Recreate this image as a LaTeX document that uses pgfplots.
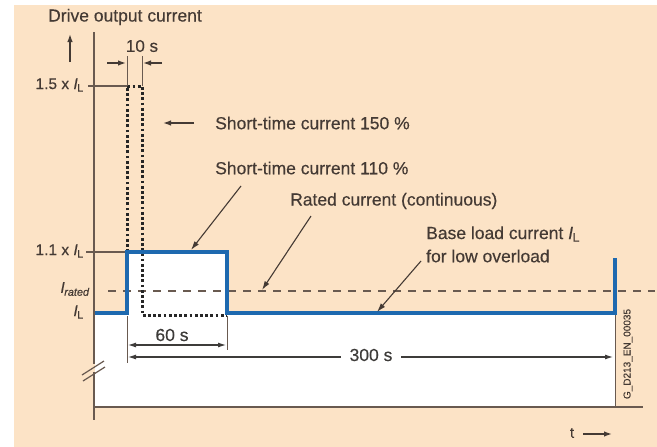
\documentclass[border=0pt]{standalone}
\usepackage{pgfplots}
\pgfplotsset{compat=1.18}
\usepackage{fontspec}
\setmainfont{Liberation Sans}[FakeBold=0.35]
\usetikzlibrary{arrows.meta}
\definecolor{peach}{RGB}{252,227,198}
\definecolor{txt}{RGB}{68,58,52}
\definecolor{ln}{RGB}{105,90,80}
\definecolor{blu}{RGB}{30,105,175}
\definecolor{dimg}{RGB}{62,60,58}
\newcommand{\IL}{\textit{I}\textsubscript{\kern-0.5pt L}}
\begin{document}
\begin{tikzpicture}
\begin{axis}[
  width=657pt, height=447pt, scale only axis, hide axis,
  xmin=0, xmax=657, ymin=0, ymax=447, y dir=reverse, clip=false,
]
% backgrounds
\addplot[fill=white, draw=none] coordinates {(0,0) (657,0) (657,447) (0,447)} -- cycle;
\addplot[fill=peach, draw=none] coordinates {(14,5) (657,5) (657,447) (14,447)} -- cycle;
% white area under the load curve
\addplot[fill=white, draw=none] coordinates {(95,313) (127,313) (127,252) (227,252) (227,313) (615,313) (615,407) (95,407)} -- cycle;
% frame lines
\addplot[ln, line width=1.2pt] coordinates {(95,407) (643,407)};
\addplot[ln, line width=0.9pt] coordinates {(615,313) (615,407)};
\addplot[ln, line width=1.5pt] coordinates {(94,32) (94,364)};
\addplot[ln, line width=1.5pt] coordinates {(94,372) (94,420)};
\addplot[ln, line width=1.2pt] coordinates {(82,375) (104,361)};
\addplot[ln, line width=1.2pt] coordinates {(83,381) (105,367)};
% up arrow
\addplot[txt, line width=1.4pt, -{Latex[length=8pt,width=5.5pt]}] coordinates {(70,62) (70,34)};
% tick lines
\addplot[ln, line width=1.2pt] coordinates {(88,86) (127,86)};
\addplot[ln, line width=1.2pt] coordinates {(86,252) (127,252)};
% rated (dashed)
\addplot[ln, line width=1.5pt, dash pattern=on 8pt off 7pt] coordinates {(108,291) (655,291)};
% short-time 150 % (dotted)
\addplot[black!85, line width=3pt, dash pattern=on 2.8pt off 2.4pt] coordinates {(127,252) (127,86) (142,86) (142,315) (227,315)};
% load curve
\addplot[blu, line width=3.6pt, line join=miter] coordinates {(95,313) (127,313) (127,252) (227,252) (227,313) (615,313) (615,258)};
% 10 s dimension
\addplot[ln, line width=0.9pt] coordinates {(127,56) (127,86)};
\addplot[ln, line width=0.9pt] coordinates {(142,56) (142,86)};
\addplot[txt, line width=1.4pt, -{Latex[length=8pt,width=5.5pt]}] coordinates {(107,63) (126,63)};
\addplot[txt, line width=1.4pt, -{Latex[length=8pt,width=5.5pt]}] coordinates {(162,63) (143,63)};
% annotation arrows
\addplot[txt, line width=1.4pt, -{Latex[length=8pt,width=5.5pt]}] coordinates {(194,123) (163,123)};
\addplot[txt, line width=1.1pt, -{Latex[length=9pt,width=5.5pt]}] coordinates {(241,186) (191,250)};
\addplot[txt, line width=1.1pt, -{Latex[length=9pt,width=5.5pt]}] coordinates {(311,216) (262,290)};
\addplot[txt, line width=1.1pt, -{Latex[length=9pt,width=5.5pt]}] coordinates {(421,261) (377,312)};
% 60 s / 300 s dimensions
\addplot[ln, line width=0.9pt] coordinates {(127,316) (127,363)};
\addplot[ln, line width=0.9pt] coordinates {(227,316) (227,350)};
\addplot[dimg, line width=1.1pt, {Latex[length=8pt,width=5pt]}-{Latex[length=8pt,width=5pt]}] coordinates {(128,345) (226,345)};
\addplot[dimg, line width=1.1pt, {Latex[length=8pt,width=5pt]}-] coordinates {(128,357) (341,357)};
\addplot[dimg, line width=1.1pt, -{Latex[length=8pt,width=5pt]}] coordinates {(401,357) (613,357)};
% t arrow
\addplot[txt, line width=1.4pt, -{Latex[length=8pt,width=5.5pt]}] coordinates {(583,434) (612,434)};

% texts
\begin{scope}[every node/.style={text=txt, inner sep=0pt}]
\node at (axis cs:125,17) {\fontsize{17.5}{20}\selectfont Drive output current};
\node at (axis cs:142,46) {\fontsize{17}{20}\selectfont 10 s};
\node[anchor=east] at (axis cs:84,85) {\fontsize{15.5}{18}\selectfont 1.5 x \IL};
\node[anchor=east] at (axis cs:84,251) {\fontsize{15.5}{18}\selectfont 1.1 x \IL};
\node[anchor=east] at (axis cs:90,289) {\fontsize{15.5}{18}\selectfont \textit{I}\textsubscript{\kern-0.5pt\textit{rated}}};
\node[anchor=east] at (axis cs:84,312) {\fontsize{15.5}{18}\selectfont \IL};
\node[anchor=west] at (axis cs:215,123) {\fontsize{17.5}{20}\selectfont Short-time current 150 \%};
\node[anchor=west] at (axis cs:215,168) {\fontsize{17.5}{20}\selectfont Short-time current 110 \%};
\node[anchor=west] at (axis cs:290,201) {\fontsize{17.5}{20}\selectfont Rated current (continuous)};
\node[anchor=west] at (axis cs:426,234) {\fontsize{17.5}{20}\selectfont Base load current \IL};
\node[anchor=west] at (axis cs:426,256) {\fontsize{17.5}{20}\selectfont for low overload};
\node[text=dimg] at (axis cs:172,335) {\fontsize{17.5}{20}\selectfont 60 s};
\node[text=dimg] at (axis cs:371,355) {\fontsize{17.5}{20}\selectfont 300 s};
\node[rotate=90] at (axis cs:628,354) {\fontsize{10}{12}\selectfont G\_D213\_EN\_00035};
\node at (axis cs:572,433) {\fontsize{15}{18}\selectfont t};
\end{scope}
\end{axis}
\end{tikzpicture}
\end{document}
